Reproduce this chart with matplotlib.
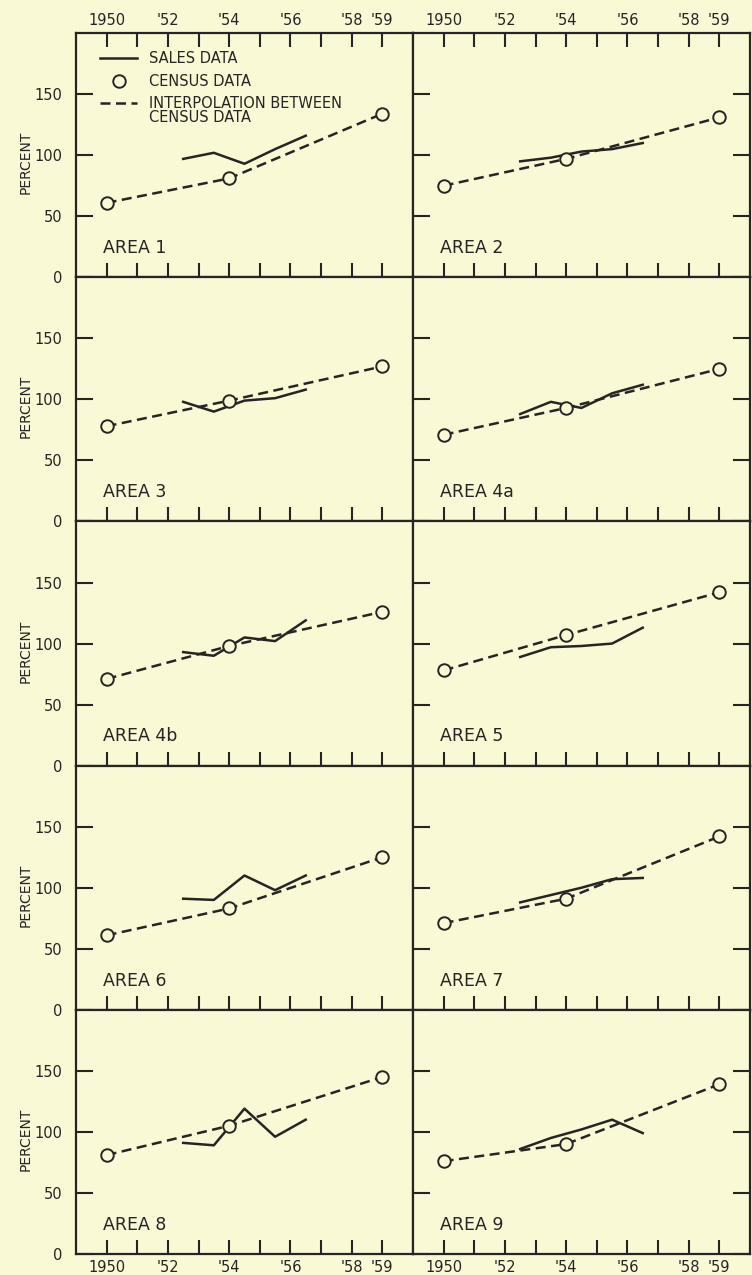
import numpy as np
import matplotlib
matplotlib.use('Agg')
import matplotlib.pyplot as plt
from matplotlib.lines import Line2D
from matplotlib.legend_handler import HandlerLine2D

BG = '#FAF9D6'
INK = '#272423'

# ---- data ----
census_years = [1950, 1954, 1959]
sales_years = [1952.5, 1953.5, 1954.5, 1955.5, 1956.5]
year_ticks = list(range(1950, 1960))
year_labels = ['1950', '', "'52", '', "'54", '', "'56", '', "'58", "'59"]
pct_ticks = [0, 50, 100, 150]
area_names = ['AREA 1', 'AREA 2', 'AREA 3', 'AREA 4a', 'AREA 4b',
              'AREA 5', 'AREA 6', 'AREA 7', 'AREA 8', 'AREA 9']

census_1 = [61, 81, 134]
sales_1 = [97, 102, 93, 105, 116]
census_2 = [75, 97, 131]
sales_2 = [95, 98, 103, 105, 110]
census_3 = [78, 99, 127]
sales_3 = [98, 90, 99, 101, 108]
census_4a = [71, 93, 125]
sales_4a = [88, 98, 93, 105, 112]
census_4b = [71, 98, 126]
sales_4b = [93, 90, 105, 102, 119]
census_5 = [78, 107, 142]
sales_5 = [89, 97, 98, 100, 113]
census_6 = [61, 83, 125]
sales_6 = [91, 90, 110, 98, 110]
census_7 = [71, 91, 142]
sales_7 = [88, 94, 100, 107, 108]
census_8 = [81, 105, 145]
sales_8 = [91, 89, 119, 96, 110]
census_9 = [76, 90, 139]
sales_9 = [86, 95, 102, 110, 99]

census_all = [census_1, census_2, census_3, census_4a, census_4b,
              census_5, census_6, census_7, census_8, census_9]
sales_all = [sales_1, sales_2, sales_3, sales_4a, sales_4b,
             sales_5, sales_6, sales_7, sales_8, sales_9]

DASH = (0, (4, 2.2))
LW = 1.8
plt.rcParams['font.family'] = ['DejaVu Sans']

fig, axes = plt.subplots(5, 2, figsize=(7.52, 12.75), dpi=100)
fig.patch.set_facecolor(BG)
fig.subplots_adjust(left=0.101, right=0.9973, top=0.974, bottom=0.0165,
                    hspace=0, wspace=0)

for i, ax in enumerate(axes.flat):
    row, col = divmod(i, 2)
    ax.set_facecolor(BG)
    ax.plot(census_years, census_all[i], ls=DASH, lw=LW, color=INK, zorder=2)
    ax.plot(sales_years, sales_all[i], ls='-', lw=LW, color=INK, zorder=3)
    ax.plot(census_years, census_all[i], ls='none', marker='o', ms=9,
            mfc=BG, mec=INK, mew=1.4, zorder=4)
    ax.set_xlim(1949, 1960)
    ax.set_ylim(0, 200)
    ax.set_xticks(year_ticks)
    ax.set_xticklabels(year_labels)
    ax.set_yticks(pct_ticks)
    ax.tick_params(axis='x', direction='in', length=10, width=1.5,
                   colors=INK, top=(row == 0), bottom=True,
                   labeltop=(row == 0), labelbottom=(row == 4),
                   pad=4, labelsize=10.5)
    ax.tick_params(axis='y', direction='in', length=12, width=1.5,
                   colors=INK, left=True, right=(col == 1),
                   labelleft=(col == 0), labelright=False,
                   pad=10, labelsize=10.5)
    for sp in ax.spines.values():
        sp.set_linewidth(1.6)
        sp.set_color(INK)
    ax.text(0.08, 0.12, area_names[i], transform=ax.transAxes,
            fontsize=12.5, va='center', ha='left', color=INK)
    if col == 0:
        ax.set_ylabel('PERCENT', fontsize=10, color=INK)
        ax.yaxis.set_label_coords(-0.13, 0.47)


class ShiftedLine(HandlerLine2D):
    def __init__(self, dy=0.0, marker_frac=None, **kw):
        super().__init__(**kw)
        self.dy = dy
        self.marker_frac = marker_frac

    def get_xdata(self, legend, xdescent, ydescent, width, height, fontsize):
        xd, xm = super().get_xdata(legend, xdescent, ydescent, width, height, fontsize)
        if self.marker_frac is not None:
            xm = [-xdescent + self.marker_frac * width]
        return xd, xm

    def create_artists(self, legend, orig_handle, xdescent, ydescent,
                       width, height, fontsize, trans):
        arts = super().create_artists(legend, orig_handle, xdescent, ydescent,
                                      width, height, fontsize, trans)
        for a in arts:
            a.set_ydata(np.asarray(a.get_ydata()) + self.dy * fontsize)
        return arts


h_sales = Line2D([], [], color=INK, lw=LW)
h_census = Line2D([], [], ls='none', marker='o', ms=9, mfc=BG, mec=INK, mew=1.4)
h_interp = Line2D([], [], color=INK, lw=LW, ls=DASH)
leg = axes[0, 0].legend(
    [h_sales, h_census, h_interp],
    ['SALES DATA', 'CENSUS DATA', 'INTERPOLATION BETWEEN\nCENSUS DATA'],
    handler_map={h_census: ShiftedLine(marker_frac=0.18),
                 h_interp: ShiftedLine(dy=0.6)},
    loc='upper left', bbox_to_anchor=(0.07, 0.925), frameon=False,
    fontsize=10.5, handlelength=2.6, handletextpad=0.8, labelspacing=0.5,
    borderpad=0, borderaxespad=0, numpoints=1)
for t in leg.get_texts():
    t.set_color(INK)
    t.set_linespacing(0.95)

fig.savefig('out.png', dpi=100, facecolor=BG)
